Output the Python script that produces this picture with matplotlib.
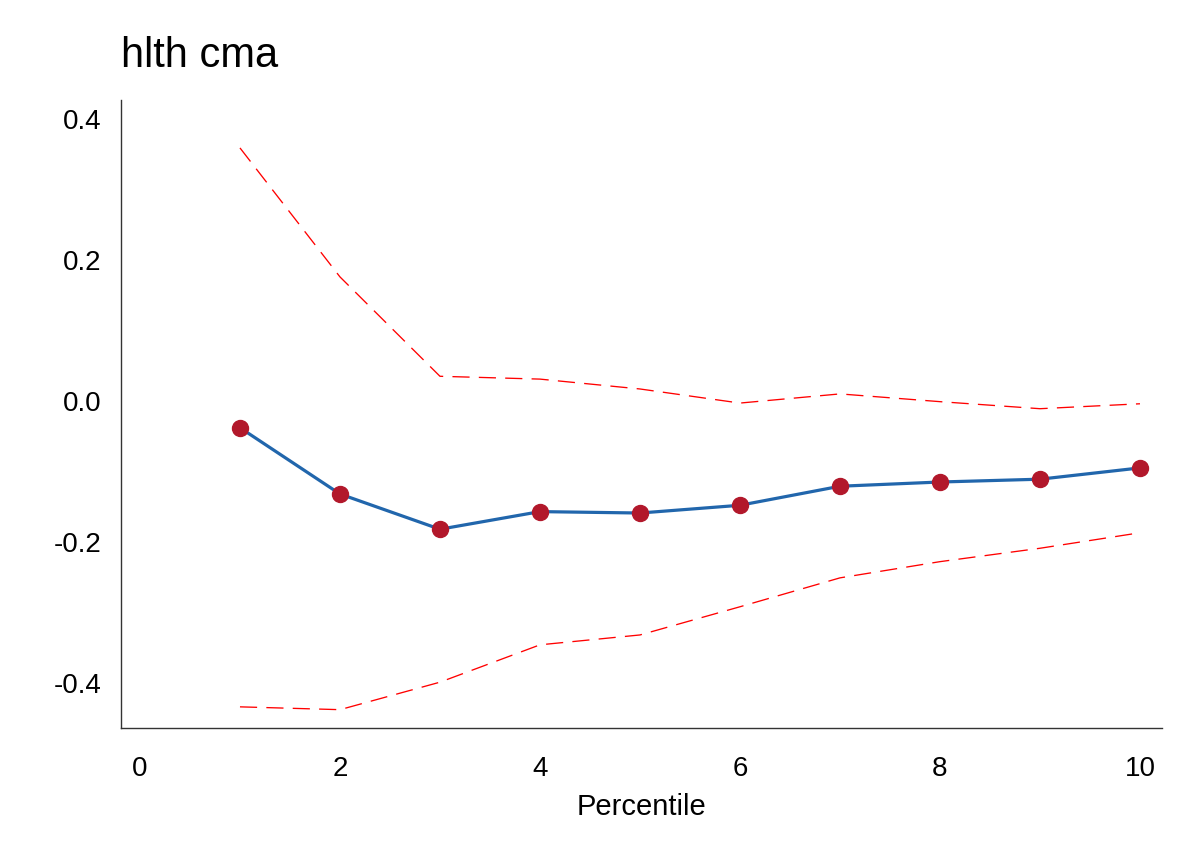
import matplotlib
matplotlib.use("Agg")
import matplotlib.pyplot as plt

# -----------------------------
# Data
# -----------------------------
percentile = [1, 2, 3, 4, 5, 6, 7, 8, 9, 10]
estimate = [-0.038, -0.132, -0.182, -0.157, -0.159, -0.148, -0.121, -0.115, -0.111, -0.095]
upper_ci = [0.359, 0.176, 0.035, 0.031, 0.017, -0.003, 0.010, -0.001, -0.011, -0.004]
lower_ci = [-0.434, -0.438, -0.399, -0.346, -0.332, -0.292, -0.251, -0.228, -0.209, -0.187]

x_ticks = [0, 2, 4, 6, 8, 10]
y_ticks = [-0.4, -0.2, 0.0, 0.2, 0.4]
y_tick_labels = ["-0.4", "-0.2", "0.0", "0.2", "0.4"]

# -----------------------------
# Plotting
# -----------------------------
plt.rcParams['font.family'] = ['Liberation Sans', 'DejaVu Sans']

fig = plt.figure(figsize=(11.93, 8.68), dpi=100)
ax = fig.add_axes([0.1014, 0.1613, 0.8726, 0.7235])

ax.plot(percentile, upper_ci, color='#ff0000', lw=0.95, dashes=(13, 7))
ax.plot(percentile, lower_ci, color='#ff0000', lw=0.95, dashes=(13, 7))
ax.plot(percentile, estimate, color='#2166ac', lw=2.3, zorder=3)
ax.plot(percentile, estimate, 'o', color='#b2182b', markersize=11.5, zorder=4)

ax.set_xlim(-0.19, 10.22)
ax.set_ylim(-0.464, 0.427)
ax.set_xticks(x_ticks)
ax.set_yticks(y_ticks)
ax.set_yticklabels(y_tick_labels)
ax.tick_params(length=0, labelsize=20)
ax.tick_params(axis='x', pad=20)
ax.tick_params(axis='y', pad=14)

for side in ['top', 'right']:
    ax.spines[side].set_visible(False)
for side in ['left', 'bottom']:
    ax.spines[side].set_color('#333333')
    ax.spines[side].set_linewidth(1.0)

ax.set_xlabel("Percentile", fontsize=21, labelpad=8)
ax.set_title("hlth cma", loc='left', fontsize=30, pad=24)

fig.savefig("out.png", dpi=100)
